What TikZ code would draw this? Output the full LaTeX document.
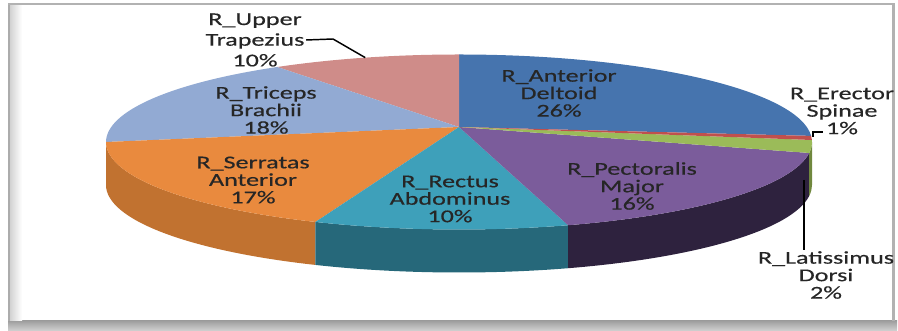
\documentclass[tikz,border=0pt]{standalone}
\usepackage{fontspec}
\usetikzlibrary{calc}
\newfontfamily\pielabel[FakeStretch=1.45, FakeBold=0.5]{Carlito}
% slice colours, top and wall
\definecolor{deltblue}{RGB}{70,116,174}
\definecolor{trappink}{RGB}{207,140,137}
\definecolor{tricblue}{RGB}{146,170,211}
\definecolor{serrorange}{RGB}{233,138,62}
\definecolor{rectteal}{RGB}{62,160,186}
\definecolor{pectpurple}{RGB}{123,92,155}
\definecolor{latgreen}{RGB}{155,187,89}
\definecolor{erecred}{RGB}{192,80,77}
\definecolor{serrside}{RGB}{193,114,48}
\definecolor{rectside}{RGB}{38,104,122}
\definecolor{pectside}{RGB}{46,34,62}
\definecolor{latside}{RGB}{112,136,62}
\begin{document}
\begin{tikzpicture}[x=0.75pt, y=0.75pt,
            pie label/.style={align=center, inner sep=1pt, text=black!85,
                font=\pielabel\fontsize{13.5}{13.1}\selectfont},
            leader/.style={draw=black, line width=1.1pt}]
        \useasboundingbox (0,0) rectangle (898,331);
                % Frame
        \shade[top color=gray!75, bottom color=gray!35] (8,0) rectangle (897,10);
        \fill[gray!65] (8,10) rectangle (10,328);
        \shade[left color=gray!35, right color=white] (10,10) rectangle (22,326);
        \fill[gray!60] (8,326) rectangle (895,328);
        \fill[gray!60] (892,10) rectangle (895,328);
                % Pie centre and apex
        \coordinate (O) at (459,189);
        \coordinate (apex) at (459,204);
                % Walls
        \foreach \a/\b/\col in {180/246/serrside, 246/288/rectside,
                288/352.8/pectside, 352.8/360/latside}
            \fill[\col] ($(O)+(\a:353 and 87.5)$)
                arc[start angle=\a, end angle=\b, x radius=353, y radius=87.5]
                -- ++(0,-43)
                arc[start angle=\b, end angle=\a, x radius=353, y radius=87.5]
                -- cycle;
                % Top of the slices
        \foreach \a/\b/\col in {4/90/deltblue, 90/121/trappink, 121/180/tricblue,
                180/246/serrorange, 246/288/rectteal, 288/352.8/pectpurple,
                352.8/361.3/latgreen, 361.3/364/erecred}
            \fill[\col] (apex) -- ($(O)+(\a:353 and 87.5)$)
                arc[start angle=\a, end angle=\b, x radius=353, y radius=87.5]
                -- cycle;
                % Labels
        \node[pie label, font=\pielabel\fontsize{13.5}{15.5}\selectfont]
            (uptrap) at (255,291) {R\_Upper\\Trapezius\\10\%};
        \node[pie label] (antdelt) at (559,238) {R\_Anterior\\Deltoid\\26\%};
        \node[pie label] (erecspin) at (842,220) {R\_Erector\\Spinae\\1\%};
        \node[pie label] (pectmaj) at (632,145) {R\_Pectoralis\\Major\\16\%};
        \node[pie label] (latdorsi) at (826,56) {R\_Latissimus\\Dorsi\\2\%};
        \node[pie label] (rectabd) at (450,132) {R\_Rectus\\Abdominus\\10\%};
        \node[pie label] (serrant) at (253,151) {R\_Serratas\\Anterior\\17\%};
        \node[pie label] (tricbra) at (266,221) {R\_Triceps\\Brachii\\18\%};
                % Leader lines
        \coordinate (traprim) at ($(O)+(105.4:353 and 87.5)$);
        \coordinate (trapknee) at (333,292);
        \draw[leader] (uptrap.east) -- (trapknee) -- (traprim);
        \coordinate (errim) at (813,194);
        \coordinate (erknee) at (813,199);
        \coordinate (erend) at (823,199);
        \draw[leader] (errim) -- (erknee) -- (erend);
        \coordinate (latrim) at (804,151);
        \draw[leader] (latrim) -- (latrim |- latdorsi.north);
\end{tikzpicture}
\end{document}
